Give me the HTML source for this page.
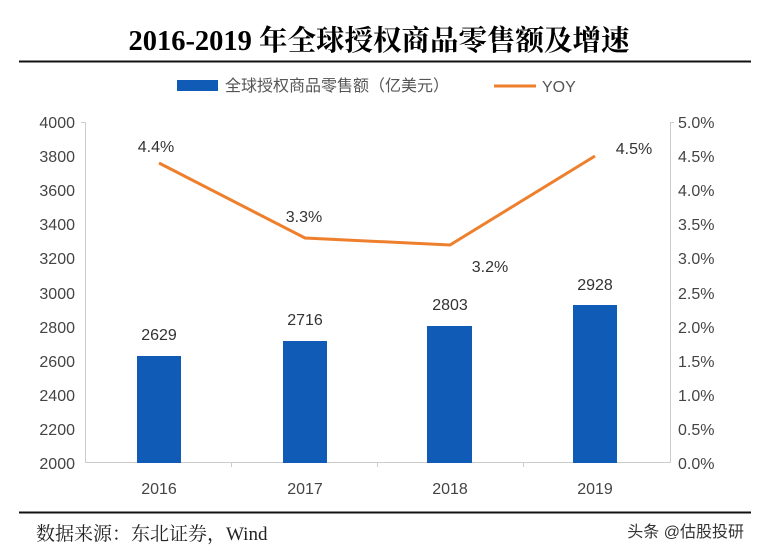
<!DOCTYPE html>
<html><head><meta charset="utf-8"><style>
body{margin:0;background:#fff;}
svg{display:block}
</style></head><body>
<svg width="758" height="554" viewBox="0 0 758 554" xmlns="http://www.w3.org/2000/svg">
<rect width="758" height="554" fill="#fff"/>
<text x="379" y="50" text-anchor="middle" font-family="Liberation Serif, Noto Serif CJK SC, serif" font-weight="bold" font-size="28.5" fill="#000">2016-2019 年全球授权商品零售额及增速</text>
<line x1="19" y1="61.5" x2="751" y2="61.5" stroke="#111" stroke-width="2"/>
<rect x="177" y="80" width="41" height="11" fill="#0f5bb5"/>
<text x="225" y="91" font-family="Liberation Sans, Noto Sans CJK SC, sans-serif" font-size="16" fill="#555">全球授权商品零售额（亿美元）</text>
<line x1="494" y1="86" x2="536" y2="86" stroke="#ee7f2d" stroke-width="3"/>
<text x="542" y="92" font-family="Liberation Sans, sans-serif" font-size="16" fill="#555">YOY</text>
<g font-family="Liberation Sans, sans-serif" font-size="16" fill="#444">
<g text-anchor="end">
<text x="75" y="128">4000</text><text x="75" y="162">3800</text><text x="75" y="196">3600</text><text x="75" y="230">3400</text><text x="75" y="264">3200</text><text x="75" y="299">3000</text><text x="75" y="333">2800</text><text x="75" y="367">2600</text><text x="75" y="401">2400</text><text x="75" y="435">2200</text><text x="75" y="469">2000</text>
</g>
<g text-anchor="start">
<text x="678" y="128">5.0%</text><text x="678" y="162">4.5%</text><text x="678" y="196">4.0%</text><text x="678" y="230">3.5%</text><text x="678" y="264">3.0%</text><text x="678" y="299">2.5%</text><text x="678" y="333">2.0%</text><text x="678" y="367">1.5%</text><text x="678" y="401">1.0%</text><text x="678" y="435">0.5%</text><text x="678" y="469">0.0%</text>
</g>
<g text-anchor="middle">
<text x="159" y="494">2016</text><text x="305" y="494">2017</text><text x="450" y="494">2018</text><text x="595" y="494">2019</text>
</g>
</g>
<g stroke="#ccc" stroke-width="1">
<line x1="85.5" y1="122" x2="85.5" y2="463"/>
<line x1="670.5" y1="122" x2="670.5" y2="463"/>
<line x1="85" y1="462.5" x2="670" y2="462.5"/>
<line x1="81" y1="122.5" x2="85" y2="122.5"/><line x1="670" y1="122.5" x2="674" y2="122.5"/>
<line x1="231.5" y1="463" x2="231.5" y2="467"/><line x1="377.5" y1="463" x2="377.5" y2="467"/><line x1="523.5" y1="463" x2="523.5" y2="467"/>
</g>
<g fill="#0f5bb5">
<rect x="137" y="356" width="44" height="107"/>
<rect x="283" y="341" width="44" height="122"/>
<rect x="427" y="326" width="45" height="137"/>
<rect x="573" y="305" width="44" height="158"/>
</g>
<g font-family="Liberation Sans, sans-serif" font-size="16" fill="#333" text-anchor="middle">
<text x="159" y="340">2629</text><text x="305" y="325">2716</text><text x="450" y="310">2803</text><text x="595" y="290">2928</text>
</g>
<polyline points="159,163 305,238 450,245 595,156" fill="none" stroke="#ee7f2d" stroke-width="3"/>
<g font-family="Liberation Sans, sans-serif" font-size="16" fill="#333" text-anchor="middle">
<text x="156" y="152">4.4%</text><text x="304" y="222">3.3%</text><text x="490" y="272">3.2%</text><text x="634" y="154">4.5%</text>
</g>
<line x1="19" y1="512.5" x2="751" y2="512.5" stroke="#111" stroke-width="2"/>
<text x="36" y="540" font-family="Liberation Serif, Noto Serif CJK SC, serif" font-size="19" fill="#222">数据来源：东北证券，Wind</text>
<text x="744" y="537" text-anchor="end" font-family="Liberation Sans, Noto Sans CJK SC, sans-serif" font-size="16" fill="#333">头条 @估股投研</text>
</svg>
</body></html>
